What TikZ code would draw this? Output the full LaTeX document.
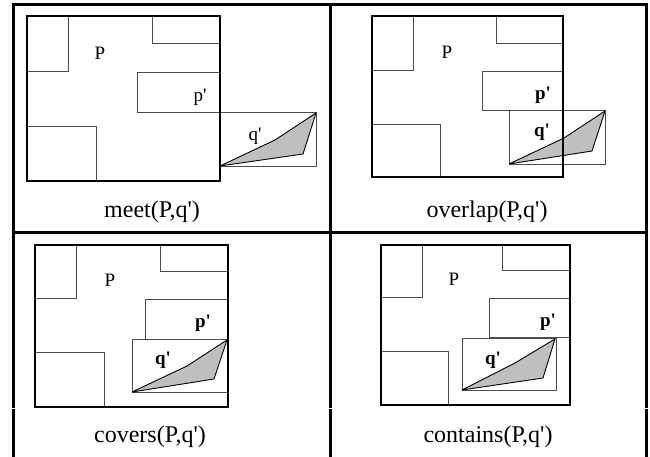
\documentclass[tikz,border=0pt]{standalone}
\usepackage{fontspec}
\setmainfont{Liberation Serif}
\usepackage{tikz}
\usetikzlibrary{positioning}

\begin{document}
\begin{tikzpicture}[x=1pt, y=-1pt]
  \tikzstyle{grid}=[line width=3pt]
  \tikzstyle{pbox}=[line width=2.4pt]
  \tikzstyle{cell}=[draw=black!70, line width=0.9pt]
  \tikzstyle{region}=[fill=black!25, draw=black, line width=0.9pt, line join=round]
  \tikzstyle{tag}=[inner sep=0pt, font=\fontsize{19}{22}\selectfont]
  \tikzstyle{boldtag}=[tag, font=\fontsize{19}{22}\selectfont\bfseries]
  \tikzstyle{caption}=[inner sep=0pt, font=\fontsize{24}{29}\selectfont]
  \useasboundingbox (0,0) rectangle (650,457);
  % table rules
  \draw[grid] (11.5,5) -- (647.5,5);
  \draw[grid] (11.5,232.5) -- (647.5,232.5);
  \foreach \x in {13,330,646} {
    \draw[grid] (\x,3.5) -- (\x,407.5);
    \draw[grid] (\x,409) -- (\x,457);
  }

  % meet
  \draw[cell] (27,16) rectangle (68,71);
  \draw[cell] (152,16) rectangle (220,43);
  \draw[cell] (137,72) rectangle (220,112);
  \draw[cell] (27,126) rectangle (96,181);
  \draw[cell] (220,112) rectangle (316,166);
  \filldraw[region] (220,166) -- (275,140) -- (316,113) -- (303,154) -- cycle;
  \draw[pbox] (27,16) rectangle (220,181);
  \node[tag] (bigP1) at (100,53) {P};
  \node[tag] (smallp1) at (200,97) {p\textquotesingle};
  \node[tag] (smallq1) at (255,136) {q\textquotesingle};
  \node[caption] (meet) at (152,212) {meet(P,q\textquotesingle)};

  % overlap
  \draw[cell] (372,16) rectangle (413,70);
  \draw[cell] (496,16) rectangle (563,43);
  \draw[cell] (482,71) rectangle (563,110);
  \draw[cell] (372,124) rectangle (440,177);
  \draw[cell] (509,110) rectangle (605,164);
  \filldraw[region] (509,164) -- (564,138) -- (605,111) -- (592,151) -- cycle;
  \draw[pbox] (372,16) rectangle (563,177);
  \node[tag] (bigP2) at (447,52) {P};
  \node[boldtag] (smallp2) at (543,95) {p\textquotesingle};
  \node[boldtag] (smallq2) at (542,132) {q\textquotesingle};
  \node[caption] (overlap) at (487,212) {overlap(P,q\textquotesingle)};

  % covers
  \draw[cell] (35,245) rectangle (76,298);
  \draw[cell] (160,245) rectangle (228,271);
  \draw[cell] (145,299) rectangle (228,339);
  \draw[cell] (35,352) rectangle (104,407);
  \draw[cell] (132,339) rectangle (228,392);
  \filldraw[region] (132,392) -- (187,366) -- (227,340) -- (214,379) -- cycle;
  \draw[pbox] (35,245) rectangle (228,407);
  \node[tag] (bigP3) at (110,280) {P};
  \node[boldtag] (smallp3) at (203,323) {p\textquotesingle};
  \node[boldtag] (smallq3) at (163,360) {q\textquotesingle};
  \node[caption] (covers) at (150,437) {covers(P,q\textquotesingle)};

  % contains
  \draw[cell] (381,245) rectangle (422,297);
  \draw[cell] (502,245) rectangle (570,270);
  \draw[cell] (489,298) rectangle (570,337);
  \draw[cell] (381,351) rectangle (448,405);
  \draw[cell] (462,338) rectangle (556,390);
  \filldraw[region] (462,390) -- (515,363) -- (555,339) -- (543,378) -- cycle;
  \draw[pbox] (381,245) rectangle (570,405);
  \node[tag] (bigP4) at (454,279) {P};
  \node[boldtag] (smallp4) at (548,322) {p\textquotesingle};
  \node[boldtag] (smallq4) at (493,360) {q\textquotesingle};
  \node[caption] (contains) at (488,437) {contains(P,q\textquotesingle)};
\end{tikzpicture}
\end{document}
